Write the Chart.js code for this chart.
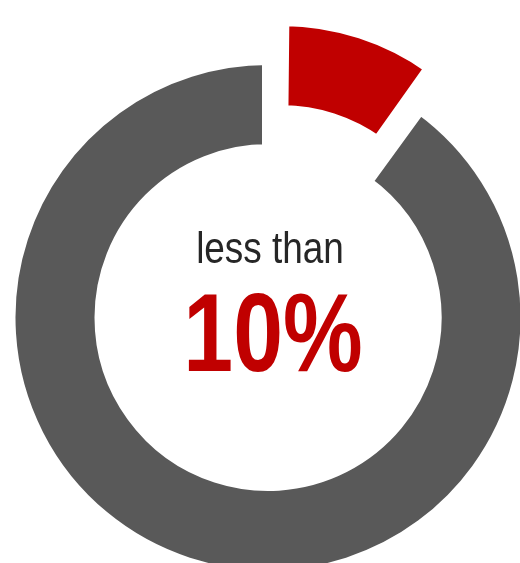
<!DOCTYPE html>
<html>
<head>
<meta charset="utf-8">
<script src="https://cdn.jsdelivr.net/npm/chart.js@4/dist/chart.umd.min.js"></script>
<style>
  html, body { margin: 0; padding: 0; background: #fff; overflow: hidden; width: 520px; height: 563px; }
  #wrap { position: absolute; left: 0; top: 0; width: 536px; height: 635px; }
  .label { position: absolute; left: 0; width: 540px; text-align: center; white-space: nowrap; transform-origin: 50% 50%; }
  #sub { top: 222px; font: 45px "Liberation Sans", Arial, sans-serif; color: #262626; transform: scaleX(0.82); }
  #big { top: 268px; left: 3px; font: bold 112px "Liberation Sans", Arial, sans-serif; color: #c00000; transform: scaleX(0.8); }
</style>
</head>
<body>
<div id="wrap"><canvas id="chart" width="536" height="635"></canvas></div>
<div id="sub" class="label">less than</div>
<div id="big" class="label">10%</div>
<script>
const categories = ['Share', 'Rest'];
const values = [10, 90];
const colors = ['#c00000', '#595959'];
const offsets = [164, 0];

// keep the pulled-out slice on the same ring as the rest:
// Chart.js grows a small offset arc's radii, undo that growth
const sameRing = {
  id: 'sameRing',
  afterDatasetUpdate(chart, args) {
    args.meta.data.forEach(arc => {
      const off = (arc.options.offset || 0) / 4;
      const grow = off * (1 - Math.sin(Math.min(Math.PI, arc.circumference)));
      arc.outerRadius -= grow;
      arc.innerRadius -= grow;
    });
  }
};

new Chart(document.getElementById('chart'), {
  type: 'doughnut',
  data: {
    labels: categories,
    datasets: [{
      data: values,
      backgroundColor: colors,
      borderColor: '#ffffff',
      borderWidth: 12,
      offset: offsets,
      hoverOffset: 0
    }]
  },
  options: {
    responsive: false,
    animation: false,
    radius: 258.5,
    cutout: '64.8%',
    layout: { padding: 0 },
    plugins: { legend: { display: false }, tooltip: { enabled: false } }
  },
  plugins: [sameRing]
});
</script>
</body>
</html>
